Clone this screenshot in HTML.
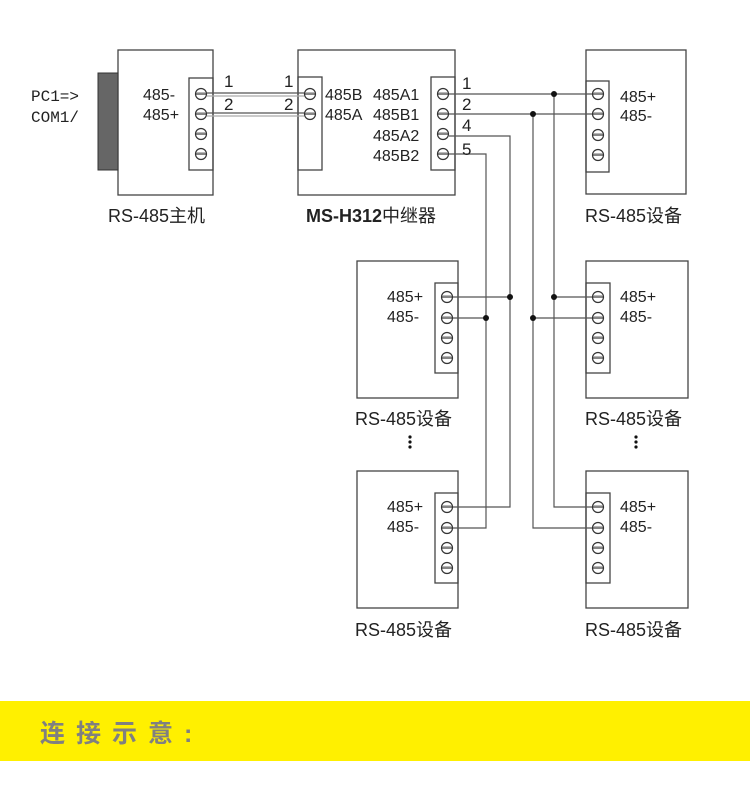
<!DOCTYPE html>
<html><head><meta charset="utf-8"><style>
html,body{margin:0;padding:0;background:#fff;width:750px;height:792px;overflow:hidden}
svg{display:block}
text{font-family:"Liberation Sans","Noto Sans CJK SC",sans-serif;fill:#222}
</style></head><body>
<svg width="750" height="792" viewBox="0 0 750 792" xmlns="http://www.w3.org/2000/svg">
<defs>
<g id="s"><circle r="5.5" fill="#fff" stroke="#333" stroke-width="1.2"/><line x1="-5.5" y1="0" x2="5.5" y2="0" stroke="#333" stroke-width="1.2"/><line x1="-5" y1="-1.5" x2="5" y2="-1.5" stroke="#888" stroke-width="0.6"/></g>
</defs>
<g fill="none" stroke="#444" stroke-width="1.3">
<rect x="118" y="50" width="95" height="145"/>
<rect x="189" y="78" width="24" height="92"/>
<rect x="298" y="50" width="157" height="145"/>
<rect x="298" y="77" width="24" height="93"/>
<rect x="431" y="77" width="24" height="93"/>
<rect x="586" y="50" width="100" height="144"/>
<rect x="586" y="81" width="23" height="91"/>
<rect x="357" y="261" width="101" height="137"/>
<rect x="435" y="283" width="23" height="90"/>
<rect x="586" y="261" width="102" height="137"/>
<rect x="586" y="283" width="24" height="90"/>
<rect x="357" y="471" width="101" height="137"/>
<rect x="435" y="493" width="23" height="90"/>
<rect x="586" y="471" width="102" height="137"/>
<rect x="586" y="493" width="24" height="90"/>
</g>
<rect x="98" y="73" width="20" height="97" fill="#666" stroke="#333"/>
<g fill="none" stroke="#555" stroke-width="1.2">
<line x1="207" y1="93" x2="304" y2="93"/><line x1="207" y1="96" x2="304" y2="96" stroke="#aaa"/>
<line x1="207" y1="113" x2="304" y2="113"/><line x1="207" y1="116" x2="304" y2="116" stroke="#aaa"/>
<polyline points="449,94 592,94"/>
<polyline points="449,114 592,114"/>
<polyline points="449,136 510,136 510,507 452,507"/>
<polyline points="449,154 486,154 486,528 452,528"/>
<polyline points="554,94 554,507 592,507"/>
<polyline points="533,114 533,528 592,528"/>
<line x1="452" y1="297" x2="510" y2="297"/>
<line x1="452" y1="318" x2="486" y2="318"/>
<line x1="554" y1="297" x2="592" y2="297"/>
<line x1="533" y1="318" x2="592" y2="318"/>
</g>
<g fill="#111">
<circle cx="554" cy="94" r="3"/><circle cx="533" cy="114" r="3"/>
<circle cx="510" cy="297" r="3"/><circle cx="486" cy="318" r="3"/>
<circle cx="554" cy="297" r="3"/><circle cx="533" cy="318" r="3"/>
<circle cx="410" cy="437" r="1.6"/><circle cx="410" cy="442" r="1.6"/><circle cx="410" cy="447" r="1.6"/>
<circle cx="636" cy="437" r="1.6"/><circle cx="636" cy="442" r="1.6"/><circle cx="636" cy="447" r="1.6"/>
</g>
<use href="#s" x="201" y="94"/><use href="#s" x="201" y="114"/><use href="#s" x="201" y="134"/><use href="#s" x="201" y="154"/>
<use href="#s" x="310" y="94"/><use href="#s" x="310" y="114"/>
<use href="#s" x="443" y="94"/><use href="#s" x="443" y="114"/><use href="#s" x="443" y="134"/><use href="#s" x="443" y="154"/>
<use href="#s" x="598" y="94"/><use href="#s" x="598" y="114"/><use href="#s" x="598" y="135"/><use href="#s" x="598" y="155"/>
<use href="#s" x="447" y="297"/><use href="#s" x="447" y="318"/><use href="#s" x="447" y="338"/><use href="#s" x="447" y="358"/>
<use href="#s" x="598" y="297"/><use href="#s" x="598" y="318"/><use href="#s" x="598" y="338"/><use href="#s" x="598" y="358"/>
<use href="#s" x="447" y="507"/><use href="#s" x="447" y="528"/><use href="#s" x="447" y="548"/><use href="#s" x="447" y="568"/>
<use href="#s" x="598" y="507"/><use href="#s" x="598" y="528"/><use href="#s" x="598" y="548"/><use href="#s" x="598" y="568"/>
<g font-size="16">
<text x="31" y="101" style="font-family:'Liberation Mono',monospace">PC1=&gt;</text>
<text x="31" y="122" style="font-family:'Liberation Mono',monospace">COM1/</text>
<text x="143" y="100">485-</text><text x="143" y="120">485+</text>
<text x="224" y="87" font-size="17">1</text><text x="224" y="110" font-size="17">2</text>
<text x="284" y="87" font-size="17">1</text><text x="284" y="110" font-size="17">2</text>
<text x="325" y="100">485B</text><text x="325" y="120">485A</text>
<text x="373" y="100">485A1</text><text x="373" y="120">485B1</text>
<text x="373" y="141">485A2</text><text x="373" y="161">485B2</text>
<text x="462" y="89" font-size="17">1</text><text x="462" y="110" font-size="17">2</text><text x="462" y="131" font-size="17">4</text><text x="462" y="155" font-size="17">5</text>
<text x="620" y="102">485+</text><text x="620" y="121">485-</text>
<text x="387" y="302">485+</text><text x="387" y="322">485-</text>
<text x="620" y="302">485+</text><text x="620" y="322">485-</text>
<text x="387" y="512">485+</text><text x="387" y="532">485-</text>
<text x="620" y="512">485+</text><text x="620" y="532">485-</text>
</g>
<g font-size="18">
<text x="108" y="222">RS-485主机</text>
<text x="306" y="222"><tspan font-weight="bold">MS-H312</tspan>中继器</text>
<text x="585" y="222">RS-485设备</text>
<text x="355" y="425">RS-485设备</text>
<text x="585" y="425">RS-485设备</text>
<text x="355" y="636">RS-485设备</text>
<text x="585" y="636">RS-485设备</text>
</g>
<rect x="0" y="701" width="750" height="60" fill="#fff000"/>
<text x="40" y="742" font-size="25" font-weight="bold" letter-spacing="11" style="fill:#808080">连接示意:</text>
</svg>
</body></html>
